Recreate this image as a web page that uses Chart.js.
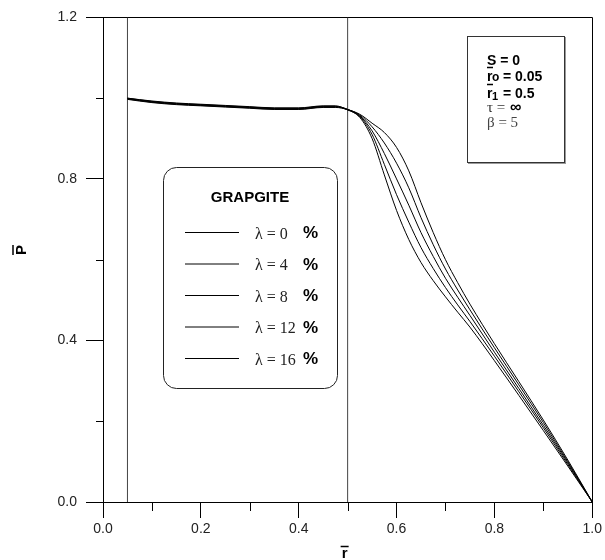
<!DOCTYPE html>
<html>
<head>
<meta charset="utf-8">
<script src="https://cdn.jsdelivr.net/npm/chart.js@4.4.1/dist/chart.umd.min.js"></script>
<style>
  html, body { margin: 0; padding: 0; background: #fff; }
</style>
</head>
<body>
<canvas id="chart" width="605" height="560"></canvas>
<script>
// radial position r (bar)
const rValues = [0.05, 0.1, 0.15, 0.2, 0.25, 0.3, 0.35, 0.4, 0.45, 0.475, 0.5,
  0.525, 0.55, 0.575, 0.6, 0.625, 0.65, 0.675, 0.7, 0.725, 0.75, 0.8, 0.85, 0.9, 0.95, 1.0];

// pressure P (bar) for each graphite fraction
const pLambda0 = [1.000, 0.993, 0.988, 0.985, 0.982, 0.979, 0.976, 0.976, 0.981, 0.981, 0.972,
  0.960, 0.938, 0.915, 0.878, 0.820, 0.741, 0.667, 0.600, 0.543, 0.490, 0.392, 0.298, 0.203, 0.104, 0.0];
const pLambda4 = [1.000, 0.992, 0.987, 0.984, 0.981, 0.978, 0.975, 0.975, 0.980, 0.980, 0.972,
  0.958, 0.929, 0.889, 0.839, 0.778, 0.704, 0.637, 0.577, 0.525, 0.476, 0.382, 0.290, 0.197, 0.100, 0.0];
const pLambda8 = [0.999, 0.991, 0.986, 0.983, 0.980, 0.977, 0.974, 0.974, 0.979, 0.979, 0.972,
  0.956, 0.919, 0.863, 0.800, 0.735, 0.667, 0.608, 0.554, 0.507, 0.462, 0.371, 0.281, 0.190, 0.097, 0.0];
const pLambda12 = [0.998, 0.990, 0.985, 0.982, 0.979, 0.976, 0.973, 0.973, 0.978, 0.978, 0.971,
  0.954, 0.910, 0.836, 0.761, 0.693, 0.630, 0.578, 0.531, 0.488, 0.447, 0.361, 0.273, 0.184, 0.093, 0.0];
const pLambda16 = [0.997, 0.989, 0.984, 0.981, 0.978, 0.975, 0.972, 0.972, 0.977, 0.977, 0.971,
  0.952, 0.900, 0.810, 0.722, 0.650, 0.593, 0.548, 0.508, 0.470, 0.433, 0.350, 0.264, 0.177, 0.089, 0.0];

const lambdaValues = ['0', '4', '8', '12', '16'];
const seriesData = [pLambda0, pLambda4, pLambda8, pLambda12, pLambda16];

// bearing limits r0 and r1
const markerR = [0.05, 0.5];

const xMinorTicks = [0.1, 0.3, 0.5, 0.7, 0.9];
const yMinorTicks = [0.2, 0.6, 1.0];

const SANS = '"Liberation Sans", Arial, sans-serif';
const SERIF = '"Liberation Serif", "Times New Roman", serif';

const datasets = seriesData.map((vals, i) => ({
  label: 'λ = ' + lambdaValues[i] + ' %',
  lambda: lambdaValues[i],
  data: rValues.map((r, k) => ({ x: r, y: vals[k] })),
  borderColor: '#000',
  borderWidth: 1,
  pointRadius: 0,
  cubicInterpolationMode: 'monotone',
  fill: false
}));

markerR.forEach(r => {
  datasets.push({
    label: 'marker',
    data: [{ x: r, y: 0 }, { x: r, y: 1.2 }],
    borderColor: '#444',
    borderWidth: 1,
    pointRadius: 0,
    fill: false
  });
});

function barLine(ctx, x1, x2, y, w) {
  ctx.save();
  ctx.lineWidth = w || 1.5;
  ctx.beginPath();
  ctx.moveTo(x1, y);
  ctx.lineTo(x2, y);
  ctx.stroke();
  ctx.restore();
}

const decor = {
  id: 'decor',
  afterDraw(chart) {
    const { ctx, chartArea: a } = chart;
    const xs = chart.scales.x, ys = chart.scales.y;
    ctx.save();
    ctx.strokeStyle = '#000';
    ctx.fillStyle = '#000';
    ctx.lineWidth = 1;

    // minor ticks
    ctx.beginPath();
    yMinorTicks.forEach(v => {
      const py = Math.round(ys.getPixelForValue(v)) + 0.5;
      ctx.moveTo(a.left - 7, py);
      ctx.lineTo(a.left, py);
    });
    xMinorTicks.forEach(v => {
      const px = Math.round(xs.getPixelForValue(v)) + 0.5;
      ctx.moveTo(px, a.bottom);
      ctx.lineTo(px, a.bottom + 9);
    });
    ctx.stroke();

    // axis titles with overbar
    ctx.font = 'bold 15px ' + SANS;
    ctx.textAlign = 'center';
    ctx.textBaseline = 'alphabetic';
    const cx = (a.left + a.right) / 2 - 3;
    ctx.fillText('r', cx, 558);
    barLine(ctx, cx - 4, cx + 4, 546.5);

    ctx.save();
    ctx.translate(22, 250);
    ctx.rotate(-Math.PI / 2);
    ctx.textBaseline = 'middle';
    ctx.fillText('P', 0, 0);
    barLine(ctx, -5, 5, -9);
    ctx.restore();

    // parameter box
    ctx.fillStyle = '#fff';
    ctx.fillRect(467, 36, 97, 126);
    ctx.strokeStyle = '#333';
    ctx.strokeRect(467.5, 36.5, 97, 126);
    ctx.strokeStyle = '#999';
    ctx.beginPath();
    ctx.moveTo(565.5, 37); ctx.lineTo(565.5, 164);
    ctx.moveTo(468, 163.5); ctx.lineTo(566, 163.5);
    ctx.stroke();

    ctx.fillStyle = '#000';
    ctx.strokeStyle = '#000';
    ctx.textAlign = 'left';
    ctx.textBaseline = 'alphabetic';
    ctx.font = 'bold 14px ' + SANS;
    ctx.fillText('S = 0', 487, 65);

    ctx.fillText('r', 487, 81);
    ctx.font = 'bold 12px ' + SANS;
    ctx.fillText('o', 492, 81);
    ctx.font = 'bold 14px ' + SANS;
    ctx.fillText(' = 0.05', 499, 81);
    barLine(ctx, 487, 493, 67.5);

    ctx.fillText('r', 487, 98);
    ctx.font = 'bold 11px ' + SANS;
    ctx.fillText('1', 492, 100);
    ctx.font = 'bold 14px ' + SANS;
    ctx.fillText(' = 0.5', 499, 98);
    barLine(ctx, 487, 493, 84.5);

    ctx.fillStyle = '#333';
    ctx.font = '15px ' + SERIF;
    ctx.fillText('τ =', 487, 112);
    ctx.fillStyle = '#000';
    ctx.font = 'bold 16px ' + SANS;
    ctx.fillText('∞', 510, 112);
    ctx.fillStyle = '#444';
    ctx.font = '15px ' + SERIF;
    ctx.fillText('β = 5', 487, 127);

    // legend box
    ctx.fillStyle = '#fff';
    ctx.strokeStyle = '#222';
    ctx.beginPath();
    ctx.roundRect(163.5, 167.5, 174, 221, 13);
    ctx.fill();
    ctx.stroke();

    ctx.fillStyle = '#000';
    ctx.textAlign = 'center';
    ctx.font = 'bold 15px ' + SANS;
    ctx.fillText('GRAPGITE', 250, 202);

    const series = chart.data.datasets.filter(d => d.lambda !== undefined);
    series.forEach((d, i) => {
      const ry = 232.5 + i * 31.5;
      ctx.strokeStyle = d.borderColor;
      ctx.lineWidth = 1;
      ctx.beginPath();
      ctx.moveTo(185, ry);
      ctx.lineTo(239, ry);
      ctx.stroke();
      ctx.textAlign = 'left';
      ctx.textBaseline = 'middle';
      ctx.fillStyle = '#222';
      ctx.font = '16px ' + SERIF;
      ctx.fillText('λ = ' + d.lambda, 255, ry + 2);
      ctx.fillStyle = '#000';
      ctx.font = 'bold 17px ' + SANS;
      ctx.fillText('%', 303, ry + 1);
    });

    ctx.restore();
  }
};

const tickFont = { family: SANS, size: 14 };

new Chart(document.getElementById('chart'), {
  type: 'line',
  data: { datasets },
  options: {
    responsive: false,
    animation: false,
    layout: { padding: { left: 0, right: 10, top: 16, bottom: 0 } },
    plugins: { legend: { display: false }, tooltip: { enabled: false } },
    scales: {
      x: {
        type: 'linear',
        min: 0, max: 1,
        afterFit: s => { s.height = 58; },
        border: { display: true, color: '#000', width: 1 },
        grid: {
          drawOnChartArea: true,
          tickLength: 16,
          tickColor: '#000',
          color: c => (c.tick && Math.abs(c.tick.value - 1) < 1e-6) ? '#000' : 'rgba(0,0,0,0)'
        },
        ticks: {
          stepSize: 0.2,
          padding: 3,
          color: '#222',
          font: tickFont,
          maxRotation: 0,
          callback: v => Number(v).toFixed(1)
        }
      },
      y: {
        type: 'linear',
        min: 0, max: 1.2,
        afterFit: s => { s.width = 103; },
        border: { display: true, color: '#000', width: 1 },
        grid: {
          drawOnChartArea: true,
          tickLength: 17,
          tickColor: '#000',
          color: c => (c.tick && Math.abs(c.tick.value - 1.2) < 1e-6) ? '#000' : 'rgba(0,0,0,0)'
        },
        ticks: {
          stepSize: 0.4,
          padding: 9,
          color: '#222',
          font: tickFont,
          callback: v => Number(v).toFixed(1)
        }
      }
    }
  },
  plugins: [decor]
});
</script>
</body>
</html>
